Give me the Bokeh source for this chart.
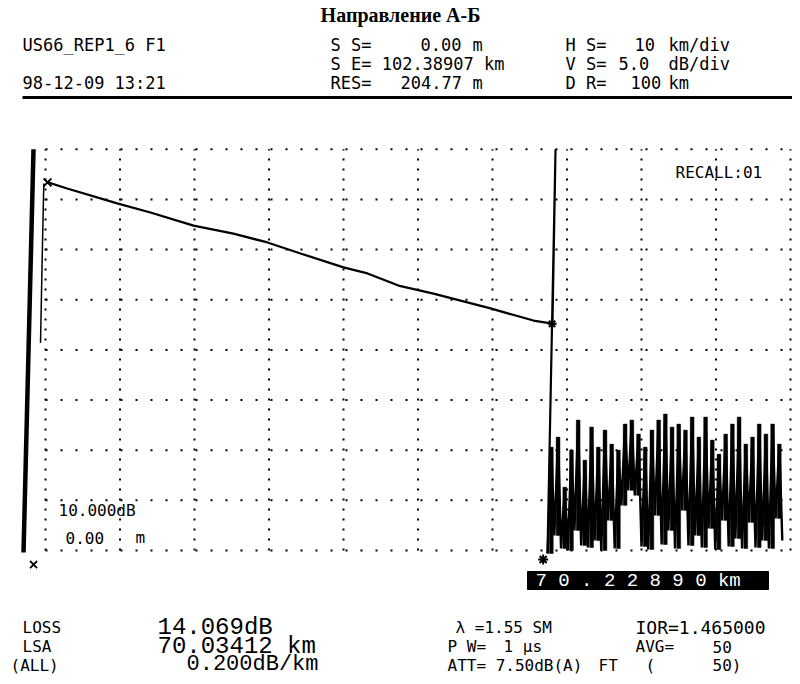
from bokeh.plotting import figure
from bokeh.models import Range1d
from bokeh.embed import file_html
from bokeh.resources import INLINE
from bokeh.core.properties import value

# ---------------- data ----------------
grid_km = [0, 10, 20, 30, 40, 50, 60, 70, 80, 90, 100]
grid_db = [0, 5, 10, 15, 20, 25, 30, 35, 40]

# backscatter trace (km, dB)
trace_km = [0.23, 2.91, 9.62, 14.09, 19.87, 25.23, 29.80, 34.23, 40.00,
            43.22, 47.38, 52.08, 59.73, 65.50, 68.05]
trace_db = [36.72, 36.09, 34.60, 33.70, 32.40, 31.60, 30.71, 29.61, 28.22,
            27.62, 26.42, 25.62, 24.13, 22.93, 22.63]

# end reflection
end_km = [68.05, 68.46, 67.38]
end_db = [22.63, 40.0, -0.3]

# launch pulse and recovery
launch_km = [-2.95, -1.61]
launch_db = [-0.2, 40.0]
recov_km = [-0.67, -0.45, -0.23]
recov_db = [20.7, 28.9, 36.6]

# noise after fibre end (alternating troughs / peaks)
noise_km = [67.4, 67.9, 68.3, 68.8, 69.2, 69.7, 70.1, 70.6, 71.0, 71.5, 71.9,
            72.4, 72.8, 73.3, 73.7, 74.2, 74.6, 75.1, 75.5, 76.0, 76.4, 76.9,
            77.3, 77.8, 78.2, 78.7, 79.1, 79.6, 80.0, 80.5, 80.9, 81.4, 81.8,
            82.3, 82.7, 83.2, 83.6, 84.1, 84.5, 85.0, 85.4, 85.9, 86.3, 86.8,
            87.2, 87.7, 88.1, 88.6, 89.0, 89.5, 89.9, 90.4, 90.8, 91.3, 91.7,
            92.2, 92.6, 93.1, 93.5, 94.0, 94.4, 94.9, 95.3, 95.8, 96.2, 96.7,
            97.1, 97.6, 98.0, 98.5, 98.9]
noise_db = [-0.3, 10.3, 1.5, 11.3, 0.2, 6.3, 0.0, 10.0, 2.0, 13.0, 0.5,
            9.0, 0.3, 12.3, 1.0, 10.3, 0.0, 12.0, 3.0, 10.6, 0.2, 10.0,
            4.5, 12.6, 6.0, 13.0, 5.5, 11.6, 0.4, 10.3, 0.1, 12.0, 3.5,
            13.0, 0.6, 13.6, 2.0, 12.3, 0.2, 12.6, 4.0, 12.0, 0.5, 13.3,
            1.5, 11.3, 0.3, 13.3, 2.2, 11.0, 0.1, 9.6, 3.0, 11.6, 0.4,
            12.6, 1.2, 13.3, 0.2, 10.6, 2.8, 11.3, 0.3, 12.6, 1.0, 11.6,
            0.2, 12.6, 3.2, 10.6, 1.0]

# cursors
cursor_a_km = [0.27]
cursor_a_db = [36.7]
cursor_b_km = [68.0]
cursor_b_db = [22.6]
cursor_low_a_km = [-1.6]
cursor_low_b_km = [66.8]
cursor_low_db = [-1.4]

# ---------------- layout helpers (picture pixels -> data) ----------------
def kx(X):
    return (X - 45.0) / 7.45

def dy(Y):
    return (550.0 - Y) / 10.03

W, H = 792, 676
p = figure(width=W, height=H, output_backend="svg", toolbar_location=None,
           x_range=Range1d(kx(0), kx(W)), y_range=Range1d(dy(H), dy(0)),
           x_axis_location=None, y_axis_location=None,
           min_border=0, min_border_left=0, min_border_right=0,
           min_border_top=0, min_border_bottom=0)
p.grid.visible = False
p.outline_line_color = None
p.background_fill_color = "white"
p.border_fill_color = "white"

# dotted grid
for g in grid_db:
    p.segment(x0=[grid_km[0]], y0=[g], x1=[grid_km[-1] + 0.6], y1=[g],
              line_color="black", line_width=2, line_dash="2 13")
for g in grid_km:
    p.segment(x0=[g], y0=[grid_db[0]], x1=[g], y1=[grid_db[-1]],
              line_color="black", line_width=2, line_dash="2 8")

# trace
p.line(launch_km, launch_db, line_color="black", line_width=4.5)
p.line(recov_km, recov_db, line_color="black", line_width=1.5)
p.line(trace_km, trace_db, line_color="black", line_width=2.3)
p.line(end_km, end_db, line_color="black", line_width=2.2)

# noise: bars from each trough up to the next peak, plus the zigzag itself
peak_km = noise_km[1::2]
peak_db = noise_db[1::2]
trough_db = noise_db[0::2][:len(peak_db)]
p.vbar(x=peak_km, top=peak_db, bottom=trough_db, width=0.5,
       fill_color="black", line_color="black", line_width=0.5)
p.line(noise_km, noise_db, line_color="black", line_width=2.4)

# cursor markers
p.scatter(cursor_a_km, cursor_a_db, marker="x", size=11, line_color="black", line_width=1.8)
p.scatter(cursor_b_km, cursor_b_db, marker="asterisk", size=9, line_color="black", line_width=2)
p.scatter(cursor_low_a_km, cursor_low_db, marker="x", size=10, line_color="black", line_width=1.8)
p.scatter(cursor_low_b_km, [cursor_low_db[0] + 0.5], marker="asterisk", size=10,
          line_color="black", line_width=2)

# header rule
p.line([kx(22), kx(795)], [dy(97), dy(97)], line_color="black", line_width=3)

# readout box
p.quad(left=[kx(527)], right=[kx(768)], top=[dy(571)], bottom=[dy(589)],
       fill_color="black", line_color="black")


def txt(X, Y, s, size, font="DejaVu Sans Mono", color="black", style="normal",
        align="left"):
    p.text(x=[kx(X)], y=[dy(Y)], text=[s], text_font=value(font),
           text_font_size=value(f"{size}px"), text_color=color,
           text_font_style=style, text_baseline="middle", text_align=align)


# title
txt(400, 14, "Направление А-Б", 20, font="Liberation Serif", style="bold", align="center")

LCD = "DejaVu Sans Mono"
header = [
    (22, 44, "US66_REP1_6 F1"),
    (330, 44, "S S="), (420, 44, "0.00"), (472, 44, "m"),
    (565, 44, "H S="), (634, 44, "10"), (668, 44, "km/div"),
    (330, 63, "S E= 102.38907 km"),
    (565, 63, "V S="), (618, 63, "5.0"), (668, 63, "dB/div"),
    (22, 82, "98-12-09 13:21"),
    (330, 82, "RES="), (400, 82, "204.77"), (472, 82, "m"),
    (565, 82, "D R="), (630, 82, "100"), (668, 82, "km"),
]
for X, Y, s in header:
    txt(X, Y, s, 17, font=LCD)

txt(675, 172, "RECALL:01", 16, font=LCD)
txt(58, 510, "10.000dB", 16, font=LCD)
txt(65, 537, "0.00", 16, font=LCD)
txt(135, 537, "m", 16, font=LCD)

txt(535, 580, "7 0 . 2 2 8 9 0 km", 19, font="Liberation Mono", color="white")

bottom = [
    (22, 627, "LOSS"), (22, 646, "LSA"), (10, 665, "(ALL)"),
    (455, 627, "λ =1.55 SM"),
    (447, 646, "P W="), (503, 646, "1 μs"), (635, 646, "AVG="), (712, 646, "50"),
    (447, 665, "ATT= 7.50dB(A)"), (598, 665, "FT"), (645, 665, "("), (712, 665, "50)"),
]
for X, Y, s in bottom:
    txt(X, Y, s, 16, font=LCD)
txt(635, 627, "IOR=1.465000", 18, font=LCD)

txt(157, 627, "14.069dB", 24, font="Liberation Mono")
txt(157, 646, "70.03412 km", 24, font="Liberation Mono")
txt(186, 664, "0.200dB/km", 22, font="Liberation Mono")

open("out.html", "w").write(file_html(p, INLINE))
